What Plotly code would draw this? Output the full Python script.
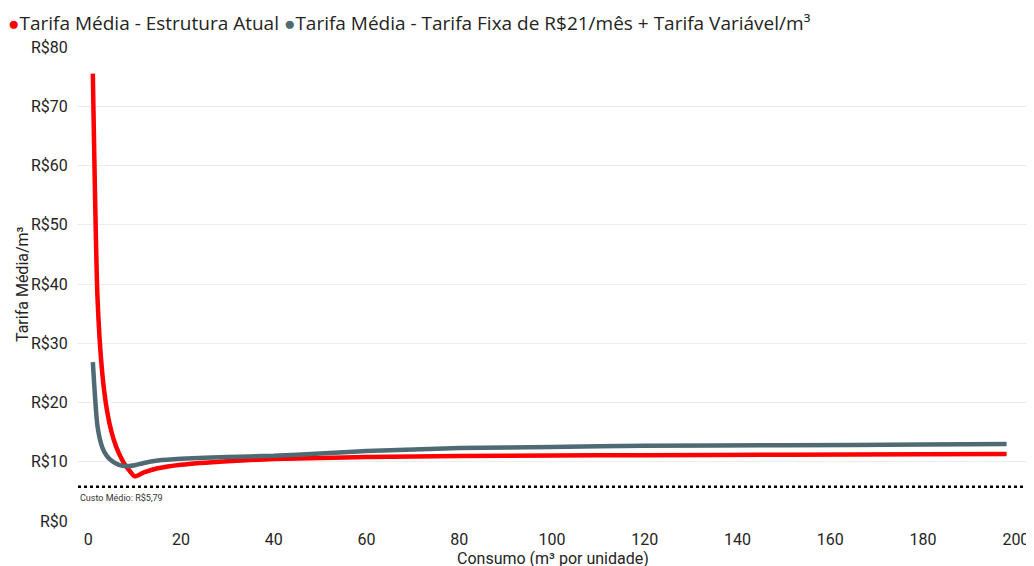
import plotly.graph_objects as go

consumo = [1, 2, 3, 4, 5, 6, 7, 8, 9, 10, 12, 15, 20, 30, 40, 50, 60, 80, 100, 120, 150, 180, 198]
tarifa_atual = [75.5, 37.8, 25.2, 18.9, 15.1, 12.6, 10.8, 9.4, 8.4, 7.55, 8.2, 8.9, 9.5, 10.1, 10.45, 10.65, 10.8, 10.95, 11.05, 11.1, 11.2, 11.25, 11.3]
tarifa_fixa = [26.8, 16.0, 12.5, 11.0, 10.2, 9.7, 9.4, 9.3, 9.3, 9.4, 9.8, 10.2, 10.5, 10.8, 11.0, 11.4, 11.8, 12.3, 12.5, 12.7, 12.8, 12.9, 13.0]
custo_medio = 5.79
y_ticks = [0, 10, 20, 30, 40, 50, 60, 70, 80]
y_labels = ["R$" + str(v) for v in y_ticks]
x_ticks = [0, 20, 40, 60, 80, 100, 120, 140, 160, 180, 200]
series_names = ["Tarifa Média - Estrutura Atual",
                "Tarifa Média - Tarifa Fixa de R$21/mês + Tarifa Variável/m³"]

RED = "#FF0000"
GRAY = "#4F6A73"
TXT = "#252423"

fig = go.Figure()
fig.add_trace(go.Scatter(x=consumo, y=tarifa_atual, mode="lines", name=series_names[0],
                         line=dict(color=RED, width=4.5, shape="spline", smoothing=0.6)))
fig.add_trace(go.Scatter(x=consumo, y=tarifa_fixa, mode="lines", name=series_names[1],
                         line=dict(color=GRAY, width=4.5, shape="spline", smoothing=0.6)))

fig.add_shape(type="line", xref="paper", x0=0, x1=1, yref="y", y0=custo_medio, y1=custo_medio,
              line=dict(color="black", width=2.5, dash="dot"))
fig.add_annotation(xref="paper", x=0, yref="y", y=custo_medio, text="Custo Médio: R$5,79",
                   showarrow=False, xanchor="left", yanchor="top", yshift=-4,
                   font=dict(family="Roboto", size=9, color="#333333"))
fig.add_annotation(xref="paper", x=0.5, yref="paper", y=0, yshift=-26, text="Consumo (m³ por unidade)",
                   showarrow=False, xanchor="center", yanchor="top",
                   font=dict(family="Roboto", size=16, color=TXT))
fig.add_annotation(xref="paper", x=0, xshift=-56, yref="paper", y=0.5, text="Tarifa Média/m³",
                   showarrow=False, xanchor="center", yanchor="middle", textangle=-90,
                   font=dict(family="Roboto", size=16, color=TXT))

legend_text = ("<span style='color:%s'>●</span>%s <span style='color:%s'>●</span>%s"
               % (RED, series_names[0], GRAY, series_names[1]))
fig.add_annotation(xref="paper", x=0, xshift=-72, yref="paper", y=1, yshift=39, text=legend_text,
                   showarrow=False, xanchor="left", yanchor="top",
                   font=dict(family="Open Sans", size=19, color=TXT))

fig.update_layout(
    width=1034, height=566,
    margin=dict(l=70, r=15, t=39, b=53),
    plot_bgcolor="white", paper_bgcolor="white",
    showlegend=False,
    xaxis=dict(range=[-2.2, 202.4], tickvals=x_ticks, showgrid=False, zeroline=False, showline=False, automargin=False,
               ticks="outside", ticklen=4, tickcolor="rgba(0,0,0,0)",
               tickfont=dict(family="Roboto", size=16, color=TXT)),
    yaxis=dict(range=[0, 80], tickvals=y_ticks, ticktext=y_labels, showgrid=True, gridcolor="#EDEDED", gridwidth=1,
               zeroline=False, showline=False, automargin=False,
               ticks="outside", ticklen=6, tickcolor="rgba(0,0,0,0)",
               tickfont=dict(family="Roboto", size=16, color=TXT)),
)

fig.write_html("out.html")
